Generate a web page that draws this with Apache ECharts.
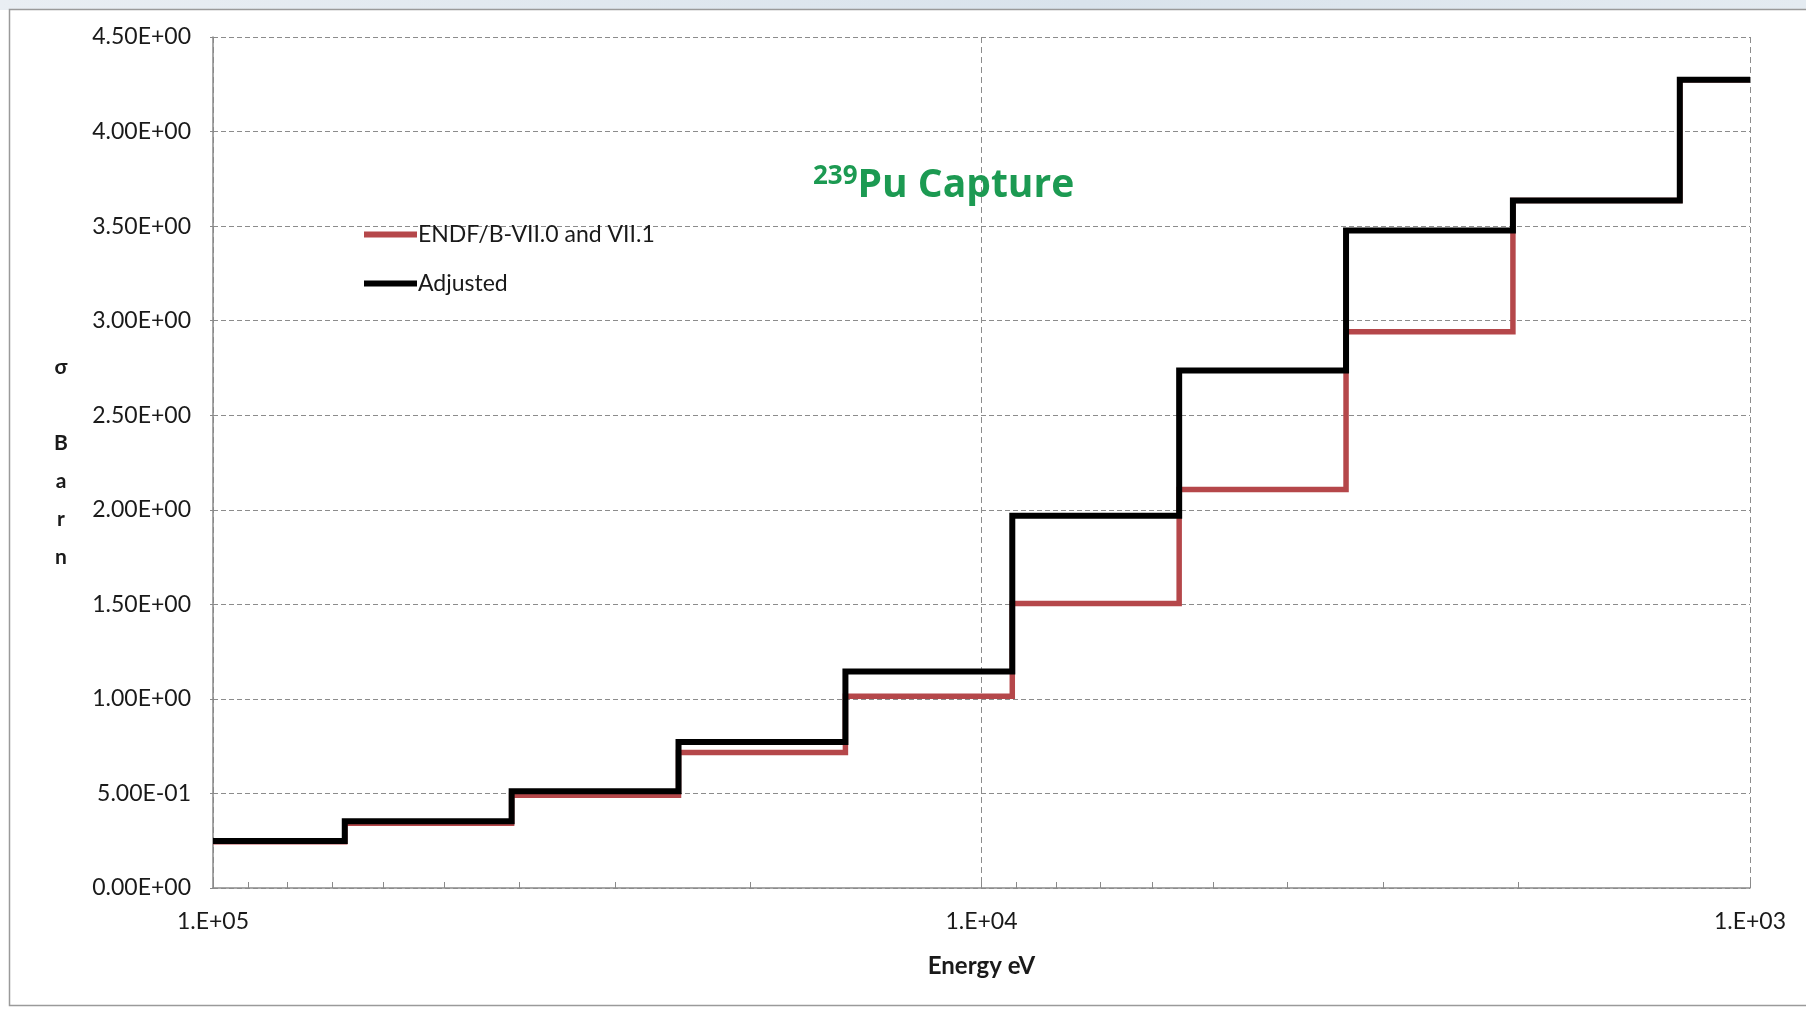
<!DOCTYPE html>
<html>
<head>
<meta charset="utf-8">
<title>239Pu Capture</title>
<script src="https://cdn.jsdelivr.net/npm/echarts@6/dist/echarts.min.js"></script>
<style>
  html, body { margin: 0; padding: 0; background: #fff; }
  #chart { width: 1806px; height: 1009px; }
</style>
</head>
<body>
<div id="chart"></div>
<script>
// group boundaries in eV, high -> low (last one closes the final group)
const energyBounds = [100000, 67379, 40868, 24788, 15034, 9118.8, 5530.8, 3354.6, 2034.7, 1234.1, 1000];
// group cross sections in barn
const endfValues = [0.245, 0.342, 0.491, 0.716, 1.014, 1.505, 2.107, 2.942, 3.635, 4.274];
const adjustedValues = [0.249, 0.353, 0.511, 0.772, 1.145, 1.968, 2.737, 3.477, 3.635, 4.274];
// minor tick marks along the energy axis
const energyTicks = [90000, 80000, 70000, 60000, 50000, 40000, 30000, 20000, 10000,
  9000, 8000, 7000, 6000, 5000, 4000, 3000, 2000];

const labelFont = 'Lato, "DejaVu Sans", sans-serif';

// step points: each group starts at its upper bound, the last value is held to 1 keV
function stepData(values) {
  return energyBounds.map((e, i) => [e, values[Math.min(i, values.length - 1)]]);
}

function sciLabel(v) {
  const parts = v.toExponential(2).split('e');
  const n = parseInt(parts[1], 10);
  return parts[0] + 'E' + (n < 0 ? '-' : '+') + String(Math.abs(n)).padStart(2, '0');
}

const chart = echarts.init(document.getElementById('chart'));

chart.setOption({
  backgroundColor: '#fff',
  animation: false,
  graphic: [
    {
      type: 'rect',
      shape: { x: 0, y: 0, width: 1806, height: 10 },
      style: {
        fill: new echarts.graphic.LinearGradient(0, 0, 1, 0, [
          { offset: 0, color: '#e9eef3' },
          { offset: 0.6, color: '#d9e3ec' },
          { offset: 1, color: '#e4ebf1' }
        ])
      },
      silent: true
    },
    {
      type: 'rect',
      shape: { x: 9.5, y: 9.5, width: 1820, height: 996 },
      style: { fill: 'none', stroke: '#9a9a9a', lineWidth: 1.5 },
      silent: true
    }
  ],
  title: {
    text: '{sup|239}{main|Pu Capture}',
    left: 808,
    top: 159,
    textStyle: {
      rich: {
        sup: {
          fontFamily: '"Open Sans", sans-serif',
          fontSize: 26,
          color: '#1c9a52',
          verticalAlign: 'top',
          lineHeight: 44,
          padding: [0, 0, 16, 0]
        },
        main: {
          fontFamily: '"Open Sans", sans-serif',
          fontSize: 39,
          fontWeight: 'bold',
          color: '#1c9a52',
          lineHeight: 44
        }
      }
    }
  },
  legend: {
    left: 359,
    top: 218,
    orient: 'vertical',
    icon: 'rect',
    itemWidth: 53,
    itemHeight: 6,
    itemGap: 26,
    textStyle: { fontFamily: labelFont, fontSize: 23, color: '#1a1a1a', padding: [0, 0, 0, -4] },
    data: ['ENDF/B-VII.0 and VII.1', 'Adjusted']
  },
  grid: { left: 213, right: 56, top: 37, bottom: 121 },
  xAxis: [
    {
      type: 'log',
      logBase: 10,
      min: 1000,
      max: 100000,
      inverse: true,
      name: 'Energy eV',
      nameLocation: 'middle',
      nameGap: 66,
      nameTextStyle: { fontFamily: labelFont, fontSize: 24, fontWeight: 'bold', color: '#1a1a1a' },
      axisLine: { lineStyle: { color: '#8a8a8a', width: 1.5 } },
      axisTick: { inside: true, length: 6, lineStyle: { color: '#8a8a8a' } },
      axisLabel: {
        margin: 22,
        fontFamily: labelFont,
        fontSize: 23,
        color: '#1a1a1a',
        formatter: v => '1.E+' + String(Math.round(Math.log10(v))).padStart(2, '0')
      },
      splitLine: { show: true, lineStyle: { color: '#8c8c8c', type: [6, 4], width: 1 } }
    },
    {
      // second copy of the energy axis, only for the minor ticks
      type: 'log',
      logBase: 10,
      min: 1000,
      max: 100000,
      inverse: true,
      position: 'bottom',
      axisLine: { show: false },
      axisTick: { show: true, inside: true, length: 6, customValues: energyTicks, lineStyle: { color: '#8a8a8a' } },
      axisLabel: { show: false },
      splitLine: { show: false }
    }
  ],
  yAxis: {
    type: 'value',
    min: 0,
    max: 4.5,
    interval: 0.5,
    name: 'σ\n\nB\na\nr\nn',
    nameLocation: 'middle',
    nameRotate: 0,
    nameGap: 152,
    nameTextStyle: {
      fontFamily: labelFont,
      fontSize: 21,
      fontWeight: 'bold',
      color: '#1a1a1a',
      lineHeight: 38,
      align: 'center',
      padding: [26, 0, 0, 0]
    },
    axisLine: { show: true, lineStyle: { color: '#8a8a8a', width: 1.5 } },
    axisTick: { show: true, length: 3, lineStyle: { color: '#8a8a8a' } },
    axisLabel: {
      margin: 22,
      fontFamily: labelFont,
      fontSize: 23,
      color: '#1a1a1a',
      formatter: sciLabel
    },
    splitLine: { show: true, lineStyle: { color: '#8c8c8c', type: [5, 3], width: 1 } }
  },
  series: [
    {
      name: 'ENDF/B-VII.0 and VII.1',
      type: 'line',
      step: 'end',
      symbol: 'none',
      color: '#b5474a',
      lineStyle: { width: 5.5, color: '#b5474a', join: 'miter' },
      data: stepData(endfValues)
    },
    {
      name: 'Adjusted',
      type: 'line',
      step: 'end',
      symbol: 'none',
      color: '#000',
      lineStyle: { width: 6, color: '#000', join: 'miter' },
      data: stepData(adjustedValues)
    }
  ]
});
</script>
</body>
</html>
